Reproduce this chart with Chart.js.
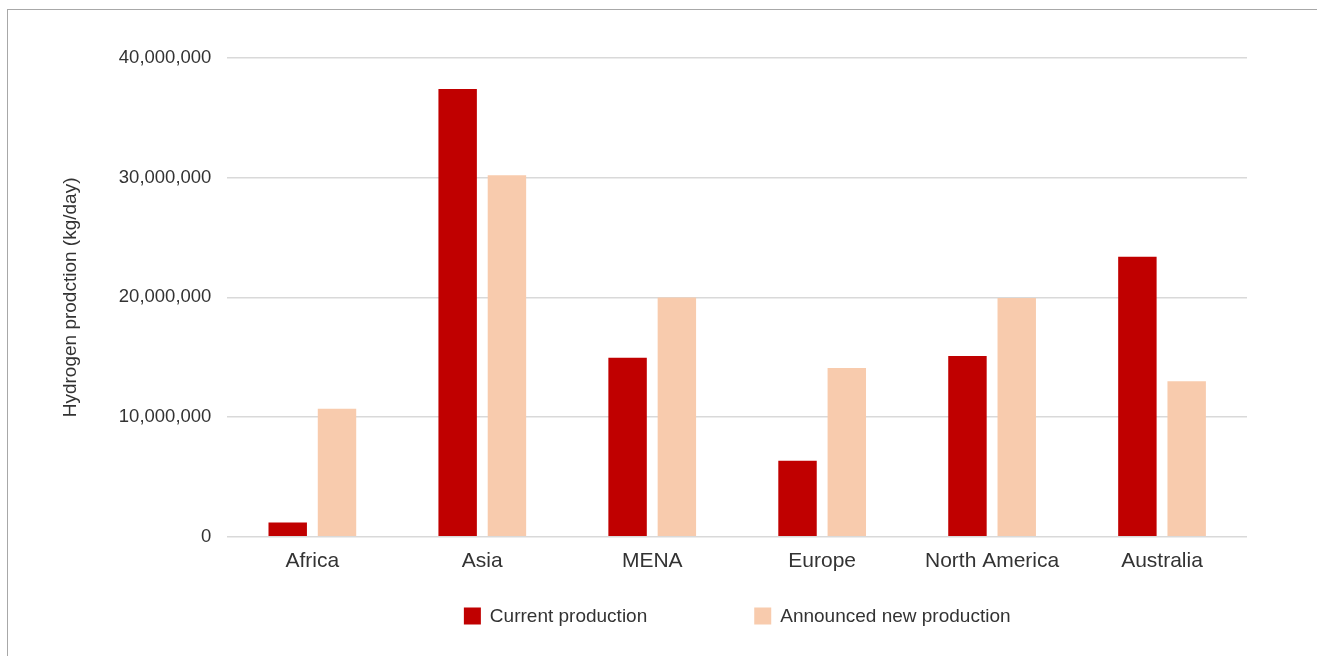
<!DOCTYPE html>
<html>
<head>
<meta charset="utf-8">
<script src="https://cdn.jsdelivr.net/npm/chart.js@4.4.1/dist/chart.umd.min.js"></script>
<style>
  html, body { margin: 0; padding: 0; background: #fff; overflow: hidden; }
  #frame {
    position: absolute; left: 7px; top: 9px;
    width: 1330px; height: 680px;
    border: 1px solid #a8a8a8;
  }
  #box { position: absolute; left: 0; top: 0; width: 1309px; height: 646px; }
</style>
</head>
<body>
<div id="frame"><div id="box"><canvas id="production"></canvas></div></div>
<script>
// regions on the x axis
const regions = ['Africa', 'Asia', 'MENA', 'Europe', 'North America', 'Australia'];
// kg/day
const currentProduction = [1200000, 37400000, 14950000, 6350000, 15100000, 23400000];
const announcedProduction = [10700000, 30200000, 20000000, 14100000, 19950000, 13000000];
const yTicks = [0, 10000000, 20000000, 30000000, 40000000];

const fontFamily = "'Helvetica Neue', Helvetica, Arial, 'Liberation Sans', sans-serif";
const textColor = '#333333';

// legend drawn by hand: Chart.js uses one padding for both directions
const pluginWideLegend = {
  id: 'wideLegend',
  afterDraw: (chart, args, options) => {
    var ctx = chart.ctx;
    var area = chart.chartArea;
    var sets = chart.data.datasets;
    ctx.save();
    ctx.font = options.fontSize + 'px ' + fontFamily;
    ctx.textBaseline = 'middle';
    var widths = sets.map(ds => options.box + options.textGap + ctx.measureText(ds.label).width);
    var total = widths.reduce((a, b) => a + b, 0) + options.itemGap * (sets.length - 1);
    var x = (area.left + area.right) / 2 - total / 2;
    var y = options.y;
    sets.forEach((ds, i) => {
      ctx.fillStyle = ds.backgroundColor;
      ctx.fillRect(x, y - options.box / 2, options.box, options.box);
      ctx.fillStyle = textColor;
      ctx.fillText(ds.label, x + options.box + options.textGap, y + 1);
      x += widths[i] + options.itemGap;
    });
    ctx.restore();
  },
  defaults: { fontSize: 19, box: 17, textGap: 9, itemGap: 107, y: 606 }
};

window.addEventListener('load', () => {
  var config = {
    type: 'bar',
    data: {
      labels: regions,
      datasets: [
        {
          label: 'Current production',
          data: currentProduction,
          backgroundColor: '#c00000',
          categoryPercentage: 0.58,
          barPercentage: 0.78
        },
        {
          label: 'Announced new production',
          data: announcedProduction,
          backgroundColor: '#f8cbad',
          categoryPercentage: 0.58,
          barPercentage: 0.78
        }
      ]
    },
    options: {
      responsive: true,
      maintainAspectRatio: false,
      animation: false,
      layout: { padding: { left: 51, right: 70, top: 48, bottom: 78 } },
      plugins: {
        legend: { display: false },
        tooltip: { enabled: false },
        wideLegend: {}
      },
      scales: {
        x: {
          grid: { display: false },
          border: { display: false },
          ticks: {
            color: textColor,
            padding: 4,
            font: { family: fontFamily, size: 21 }
          }
        },
        y: {
          min: 0,
          max: 40000000,
          afterBuildTicks: (scale) => { scale.ticks = yTicks.map(v => ({ value: v })); },
          grid: { color: '#d9d9d9', lineWidth: 1.5, drawTicks: false },
          border: { display: false },
          ticks: {
            color: textColor,
            padding: 16,
            font: { family: fontFamily, size: 18.5 },
            callback: (v) => Number(v).toLocaleString('en-US')
          },
          title: {
            display: true,
            text: 'Hydrogen prodction (kg/day)',
            color: textColor,
            font: { family: fontFamily, size: 19 },
            padding: { top: 0, bottom: 21 }
          }
        }
      }
    },
    plugins: [pluginWideLegend]
  };

  const ctx = document.getElementById('production').getContext('2d');
  window.productionChart = new Chart(ctx, config);
});
</script>
</body>
</html>
